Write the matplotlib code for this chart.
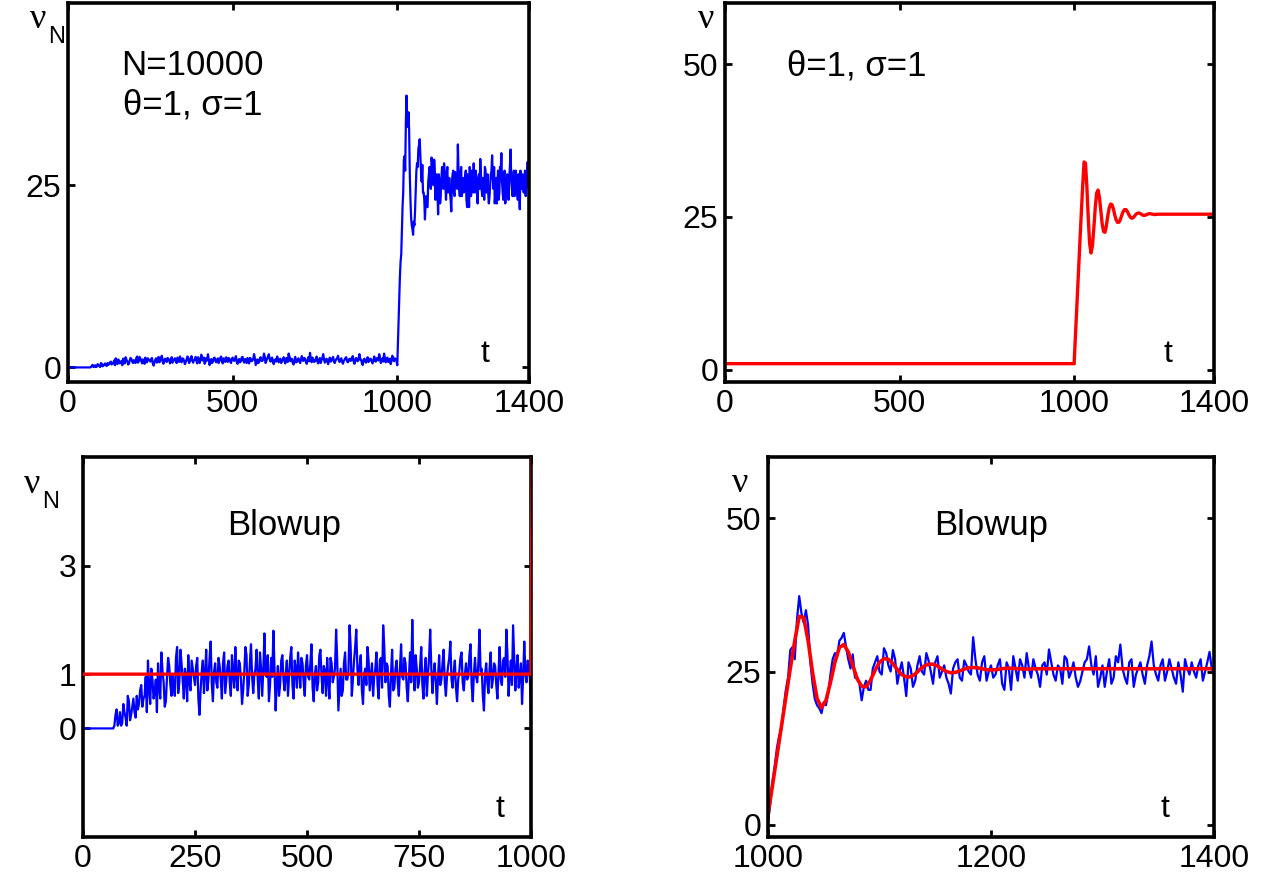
import numpy as np
import matplotlib
matplotlib.use("Agg")
import matplotlib.pyplot as plt

plt.rcParams['font.family'] = ['Liberation Sans', 'DejaVu Sans']

# blue trace nu_N
# t = 0, 5, ..., 995
blue_early = [
    0, 0, 0, 0, 0, 0, 0, 0, 0, 0, 0, 0, 0, 0,
    0.05, 0.35, 0.1, 0.05, 0.45, 0.2, 0.6, 0.15, 0.4, 0.3,
    0.6, 0.45, 0.8, 0.55, 0.95, 1.25, 0.45, 0.9, 0.65, 0.3,
    0.75, 1.4, 0.85, 0.5, 1.3, 0.8,
    1.0, 0.6, 1.5, 0.85, 1.2, 0.55, 0.95, 1.35, 0.7, 1.1,
    0.8, 1.3, 0.25, 1.05, 0.65, 1.45, 0.9, 1.6, 0.5, 1.2,
    0.75, 1.15, 0.55, 1.4, 0.9, 1.25, 0.6, 1.0, 1.5, 0.7,
    1.2, 0.45, 1.05, 1.35, 0.8, 1.55, 0.65, 1.1, 0.9, 1.4,
    0.6, 1.75, 0.95, 0.5, 1.3, 1.8, 0.33, 1.15, 0.8, 1.35,
    0.7, 1.25, 0.95, 1.5, 0.55, 1.1, 1.4, 0.75, 1.2, 0.6,
    1.35, 0.9, 1.55, 0.5, 1.15, 0.85, 1.45, 0.65, 1.05, 1.3,
    0.55, 1.2, 0.95, 1.82, 0.33, 1.1, 0.7, 1.4, 0.9, 1.9,
    0.6, 1.25, 1.82, 0.8, 1.35, 0.45, 1.1, 1.5, 0.7, 1.2,
    0.95, 1.4, 0.55, 1.3, 1.9, 0.85, 1.15, 0.4, 1.45, 0.75,
    1.25, 0.6, 1.55, 0.9, 1.2, 0.5, 1.4, 2.0, 0.7, 1.1,
    0.85, 1.5, 0.55, 1.3, 1.0, 1.82, 0.65, 1.2, 0.45, 1.35,
    0.9, 1.45, 0.6, 1.15, 1.6, 0.75, 1.25, 0.5, 1.05, 1.4,
    0.7, 1.2, 0.95, 1.55, 0.5, 1.3, 0.85, 1.82, 1.1, 0.33,
    1.2, 0.65, 1.4, 0.9, 1.15, 0.55, 1.5, 0.8, 1.3, 1.82,
    0.6, 1.25, 1.9, 0.7, 1.35, 0.95, 0.45, 1.6, 0.85, 1.15,
]
# t = 2.5, 7.5, ..., 997.5
blue_early_mid = [
    0, 0, 0, 0, 0, 0, 0, 0, 0, 0, 0, 0, 0,
    0.0, 0.25, 0.05, 0.3, 0.1, 0.3, 0.05, 0.5, 0.25, 0.55,
    0.2, 0.35, 0.7, 0.4, 0.6, 0.3, 0.75, 1.1, 0.55, 0.9,
    1.2, 0.55, 1.05, 0.4, 0.95, 1.15, 0.6,
    0.75, 1.3, 0.65, 1.45, 0.9, 1.1, 0.5, 0.85, 1.25, 0.95,
    1.15, 0.55, 0.7, 1.25, 1.0, 0.7, 1.3, 0.8, 1.05, 0.85,
    1.3, 0.9, 1.2, 0.65, 1.15, 0.85, 1.35, 0.75, 0.95, 1.25,
    0.9, 0.7, 1.5, 0.6, 1.2, 0.95, 1.0, 1.45, 0.55, 1.1,
    1.1, 1.0, 1.35, 0.8, 0.95, 1.1, 0.85, 0.6, 1.25, 0.9,
    1.0, 0.6, 1.3, 0.8, 1.25, 0.75, 1.05, 1.3, 0.85, 1.15,
    0.95, 1.2, 0.75, 1.0, 0.7, 1.35, 0.95, 1.15, 0.6, 0.9,
    1.3, 0.85, 1.1, 1.25, 0.7, 0.6, 1.2, 0.9, 1.05, 1.5,
    0.9, 1.5, 1.1, 1.15, 0.7, 1.0, 0.8, 1.25, 0.95, 0.6,
    1.1, 0.8, 1.25, 0.75, 1.5, 1.2, 0.6, 1.0, 0.7, 1.1,
    0.85, 1.1, 0.95, 1.3, 0.75, 0.95, 0.85, 1.1, 1.35, 0.75,
    1.15, 0.8, 1.05, 0.6, 1.3, 1.1, 1.0, 0.85, 0.95, 0.8,
    1.2, 0.85, 0.95, 1.3, 0.9, 1.05, 0.75, 0.9, 1.3, 0.85,
    1.0, 0.9, 1.35, 0.8, 1.0, 0.95, 1.2, 1.05, 0.6, 1.0,
    0.85, 1.1, 0.75, 1.2, 0.8, 1.05, 0.9, 1.25, 0.95, 1.35,
    1.0, 0.8, 1.3, 1.1, 0.75, 1.2, 0.95, 1.0, 1.25, 0.9,
]
# t = 1000, 1004, ..., 1400
blue_late = [
    0.3, 7.0, 12.5, 15.5, 22.0, 28.5, 27.0, 37.3, 33.0, 32.5,
    23.0, 19.5, 18.2, 19.5, 24.5, 28.0, 30.0, 31.3, 27.0, 27.8,
    24.0, 20.3, 23.5, 22.0, 26.5, 25.0, 28.8, 26.0, 28.5, 23.0,
    26.5, 21.0, 25.5, 23.5, 27.5, 24.5, 26.8, 23.0, 27.5, 25.0,
    24.0, 21.4, 26.5, 24.0, 26.8, 25.0, 30.6, 24.5, 26.5, 23.5,
    26.0, 24.5, 27.0, 22.0, 25.5, 27.5, 23.5, 26.0, 28.0, 24.0,
    25.5, 22.5, 26.5, 28.6, 24.5, 26.0, 23.0, 27.0, 25.0, 24.0,
    23.4, 26.5, 29.1, 24.5, 22.5, 26.0, 25.0, 23.0, 27.5, 29.4,
    24.0, 26.5, 22.5, 25.5, 24.5, 26.0, 29.9, 24.5, 26.0, 23.5,
    27.0, 24.0, 26.5, 21.7, 25.5, 26.5, 24.0, 27.0, 25.0, 28.2,
    24.5,
]
# t = 1002, 1006, ..., 1398
blue_late_mid = [
    3.5, 9.5, 14.5, 19.0, 24.0, 29.0, 33.5, 34.5, 35.0, 26.5,
    20.5, 19.0, 20.0, 21.5, 27.0, 27.5, 30.5, 29.0, 25.5, 24.0,
    23.0, 22.5, 22.0, 25.5, 27.5, 24.5, 28.0, 25.0, 27.0, 25.0,
    24.0, 26.5, 22.5, 26.0, 25.0, 28.0, 25.0, 26.5, 24.0, 26.0,
    23.0, 25.5, 27.0, 23.5, 26.0, 24.5, 27.0, 23.5, 27.5, 25.0,
    24.0, 26.0, 23.0, 26.5, 22.0, 25.5, 27.0, 24.0, 25.5, 27.0,
    24.5, 26.0, 24.5, 26.5, 23.5, 25.5, 27.5, 24.0, 26.5, 22.5,
    25.0, 27.0, 26.0, 27.5, 24.0, 22.5, 27.0, 24.0, 26.5, 25.5,
    23.0, 27.0, 24.5, 26.5, 23.0, 27.5, 26.0, 23.5, 27.0, 25.0,
    25.5, 23.0, 24.5, 27.0, 24.5, 25.0, 26.0, 23.5, 26.5, 25.5,
]

bt = np.concatenate([np.arange(len(blue_early)) * 5.0,
                     2.5 + np.arange(len(blue_early_mid)) * 5.0,
                     1000 + np.arange(len(blue_late)) * 4.0,
                     1002 + np.arange(len(blue_late_mid)) * 4.0])
bv = np.array(blue_early + blue_early_mid + blue_late + blue_late_mid)
order = np.argsort(bt, kind='stable')
blue_t, blue_v = bt[order], bv[order]

# red trace nu (deterministic)
red_t = [0, 1000, 1000, 1004, 1008, 1012, 1016, 1020, 1024, 1028, 1032, 1036,
         1040, 1044, 1048, 1052, 1056, 1060, 1064, 1068, 1072, 1076, 1080,
         1084, 1088, 1092, 1096, 1100, 1104, 1108, 1112, 1116, 1120, 1124,
         1128, 1132, 1136, 1140, 1144, 1148, 1152, 1156, 1160, 1164, 1168,
         1172, 1176, 1180, 1184, 1188, 1192, 1196, 1200, 1204, 1208, 1212,
         1216, 1220, 1224, 1228, 1232, 1240, 1260, 1300, 1400]
red_v = [1.0, 1.0, 1.6, 6.4, 11.2, 16.0, 20.8, 25.5, 30.0, 34.0, 33.8, 30.0,
         24.8, 20.6, 19.1, 20.3, 23.2, 26.5, 28.9, 29.4, 28.2, 26.0, 23.8,
         22.6, 22.5, 23.6, 25.2, 26.5, 27.1, 27.0, 26.3, 25.3, 24.5, 24.1,
         24.15, 24.6, 25.3, 25.9, 26.2, 26.2, 25.9, 25.4, 25.0, 24.8, 24.85,
         25.1, 25.4, 25.6, 25.65, 25.6, 25.45, 25.3, 25.25, 25.3, 25.4, 25.5,
         25.55, 25.5, 25.45, 25.4, 25.4, 25.45, 25.45, 25.45, 25.45]

W, H = 1266, 880
fig = plt.figure(figsize=(W / 100, H / 100), dpi=100)

def add_ax(x0, y0, x1, y1):
    ax = fig.add_axes([x0 / W, 1 - y1 / H, (x1 - x0) / W, (y1 - y0) / H])
    for s in ax.spines.values():
        s.set_linewidth(2.6)
    ax.tick_params(direction='in', length=5, width=2, top=True, right=True,
                   labelsize=23, pad=5)
    return ax

def ftext(x, y, s, **kw):
    fig.text(x / W, 1 - y / H, s, **kw)

BLUE = '#0000ff'
RED = '#ff0000'
FS = 23
BLW = 1.6

# top left
ax1 = add_ax(68, 3, 529, 382)
ax1.plot(blue_t, blue_v, color=BLUE, lw=BLW)
ax1.set_xlim(0, 1400)
ax1.set_ylim(-2, 50)
ax1.set_xticks([0, 500, 1000, 1400])
ax1.set_yticks([0, 25])
ax1.text(0.27, 0.835, 'N=10000', transform=ax1.transAxes, fontsize=25, ha='center', va='center')
ax1.text(0.27, 0.73, 'θ=1, σ=1', transform=ax1.transAxes, fontsize=25, ha='center', va='center')
ax1.text(0.905, 0.075, 't', transform=ax1.transAxes, fontsize=FS, ha='center', va='center')
ftext(38, 19, 'ν', fontsize=26, family='Liberation Serif', ha='center', va='center')
ftext(57, 37, 'N', fontsize=17, ha='center', va='center')

# top right
ax2 = add_ax(725, 3, 1214, 382)
ax2.plot(red_t, red_v, color=RED, lw=2.4)
ax2.set_xlim(0, 1400)
ax2.set_ylim(-2, 60)
ax2.set_xticks([0, 500, 1000, 1400])
ax2.set_yticks([0, 25, 50])
ax2.text(0.27, 0.835, 'θ=1, σ=1', transform=ax2.transAxes, fontsize=25, ha='center', va='center')
ax2.text(0.905, 0.075, 't', transform=ax2.transAxes, fontsize=FS, ha='center', va='center')
ftext(706, 20, 'ν', fontsize=26, family='Liberation Serif', ha='center', va='center')

# bottom left
ax3 = add_ax(83, 457, 531, 837)
ax3.plot(blue_t, blue_v, color=BLUE, lw=BLW)
ax3.plot(red_t, red_v, color=RED, lw=2.4, zorder=3)
ax3.set_xlim(0, 1000)
ax3.set_ylim(-2, 5)
ax3.set_xticks([0, 250, 500, 750, 1000])
ax3.set_yticks([0, 1, 3])
ax3.text(0.45, 0.82, 'Blowup', transform=ax3.transAxes, fontsize=25, ha='center', va='center')
ax3.text(0.93, 0.075, 't', transform=ax3.transAxes, fontsize=FS, ha='center', va='center')
ftext(32, 484, 'ν', fontsize=26, family='Liberation Serif', ha='center', va='center')
ftext(51, 502, 'N', fontsize=17, ha='center', va='center')

# bottom right
ax4 = add_ax(768, 457, 1214, 837)
ax4.plot(blue_t, blue_v, color=BLUE, lw=BLW)
ax4.plot(red_t, red_v, color=RED, lw=2.6)
ax4.set_xlim(1000, 1400)
ax4.set_ylim(-2, 60)
ax4.set_xticks([1000, 1200, 1400])
ax4.set_yticks([0, 25, 50])
ax4.text(0.5, 0.82, 'Blowup', transform=ax4.transAxes, fontsize=25, ha='center', va='center')
ax4.text(0.89, 0.075, 't', transform=ax4.transAxes, fontsize=FS, ha='center', va='center')
ftext(740, 483, 'ν', fontsize=26, family='Liberation Serif', ha='center', va='center')

fig.savefig('out.png', dpi=100)
